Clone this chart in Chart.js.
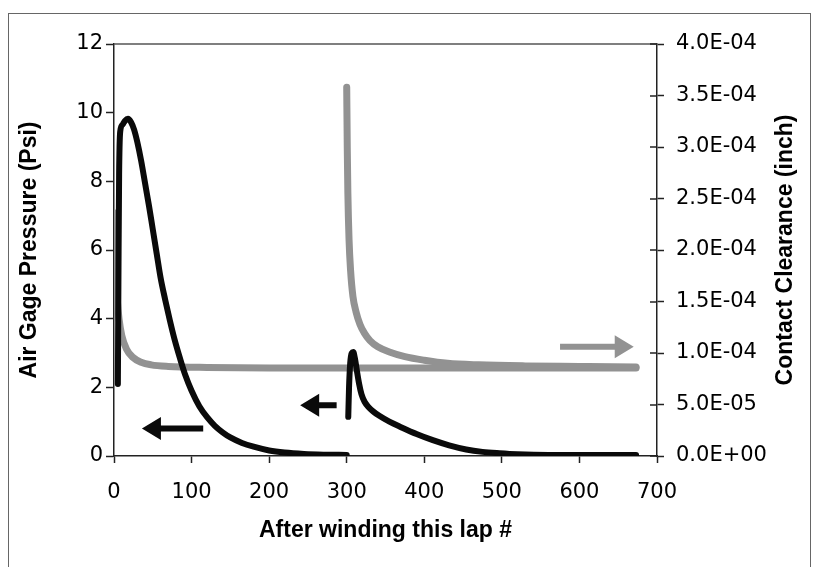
<!DOCTYPE html>
<html>
<head>
<meta charset="utf-8">
<script src="https://cdn.jsdelivr.net/npm/chart.js@4.4.1/dist/chart.umd.min.js"></script>
<style>
html,body{margin:0;padding:0;background:#fff;}
#wrap{position:relative;width:813px;height:567px;}
canvas{display:block;}
</style>
</head>
<body>
<div id="wrap"><canvas id="c" width="813" height="567"></canvas></div>
<script>
// ---- tick labels ----
const lapTicks = [0, 100, 200, 300, 400, 500, 600, 700];
const pressureTicks = [0, 2, 4, 6, 8, 10, 12];
const clearanceTicks = [0, 5e-5, 1e-4, 1.5e-4, 2e-4, 2.5e-4, 3e-4, 3.5e-4, 4e-4];
const clearanceTickLabels = ['0.0E+00','5.0E-05','1.0E-04','1.5E-04','2.0E-04','2.5E-04','3.0E-04','3.5E-04','4.0E-04'];

// ---- Air gage pressure (Psi), first lap group ----
const pressureLapsA = [5, 5.8, 6.6, 8, 11, 14, 18, 22, 26, 30, 35, 40, 45, 50, 55, 60, 66, 72, 78, 85, 92, 100, 110, 120, 130, 140, 150, 165, 180, 200, 220, 245, 270, 300];
const pressureA     = [2.1, 5.5, 8.2, 9.45, 9.65, 9.76, 9.82, 9.72, 9.5, 9.15, 8.6, 7.95, 7.3, 6.6, 5.9, 5.2, 4.55, 3.95, 3.4, 2.85, 2.35, 1.9, 1.45, 1.13, 0.88, 0.69, 0.54, 0.38, 0.27, 0.16, 0.1, 0.06, 0.04, 0.03];

// ---- Air gage pressure (Psi), second lap group ----
const pressureLapsB = [302, 303, 304.5, 306.5, 308.5, 310.5, 313, 316, 319, 323, 328, 334, 342, 355, 370, 390, 411, 432, 454, 475, 497, 520, 560, 673];
const pressureB     = [1.14, 2.0, 2.7, 3.0, 3.03, 2.85, 2.5, 2.1, 1.8, 1.58, 1.43, 1.3, 1.17, 1.0, 0.84, 0.64, 0.46, 0.31, 0.19, 0.12, 0.08, 0.05, 0.03, 0.03];

// ---- Contact clearance (inch), first lap group ----
const clearanceLapsA = [1.2, 1.8, 2.7, 4.2, 6.5, 10, 16, 24, 35, 48, 70, 120, 200, 300, 400, 500, 600, 673];
const clearanceA     = [2.36e-4, 2.05e-4, 1.75e-4, 1.52e-4, 1.33e-4, 1.17e-4, 1.04e-4, 9.6e-5, 9.1e-5, 8.85e-5, 8.7e-5, 8.6e-5, 8.55e-5, 8.55e-5, 8.55e-5, 8.55e-5, 8.55e-5, 8.55e-5];

// ---- Contact clearance (inch), second lap group ----
const clearanceLapsB = [300, 300.7, 301.5, 303, 305, 308, 312, 317, 323, 330, 340, 355, 375, 400, 430, 470, 530, 600, 673];
const clearanceB     = [3.58e-4, 3.0e-4, 2.55e-4, 2.1e-4, 1.8e-4, 1.55e-4, 1.4e-4, 1.28e-4, 1.19e-4, 1.12e-4, 1.06e-4, 1.01e-4, 9.65e-5, 9.3e-5, 9.0e-5, 8.85e-5, 8.75e-5, 8.7e-5, 8.65e-5];

// ---- direction arrows (annotation: which axis each curve belongs to) ----
const arrowTipLap  = [36, 240, 670];
const arrowTailLap = [115, 287, 575];
const arrowLevel   = [0.8, 1.48, 1.06e-4];
const arrowAxis    = ['y', 'y', 'y2'];

const BLACK = '#0a0a0a';
const GRAY = '#929292';

function pts(xs, ys){ return xs.map((x,i)=>({x:x, y:ys[i]})); }

const tickFont = {family: "'DejaVu Sans', 'Liberation Sans', Arial, sans-serif", size: 21};
const titleFont = {family: "'Liberation Sans', Arial, Helvetica, sans-serif", size: 23, weight: 'bold'};

const decorPlugin = {
  id: 'decor',
  beforeDraw(chart){
    const ctx = chart.ctx;
    ctx.save();
    ctx.fillStyle = '#fff';
    ctx.fillRect(0,0,chart.width,chart.height);
    ctx.strokeStyle = '#666';
    ctx.lineWidth = 1;
    ctx.strokeRect(8.5, 13.5, 802, 620);
    ctx.restore();
  },
  afterDraw(chart){
    const ctx = chart.ctx;
    const a = chart.chartArea;
    ctx.save();
    // top border of plot area
    ctx.strokeStyle = '#555';
    ctx.lineWidth = 1.5;
    ctx.beginPath();
    ctx.moveTo(a.left, a.top);
    ctx.lineTo(a.right, a.top);
    ctx.stroke();
    // inner half of right axis ticks (ticks cross the axis)
    const y2 = chart.scales.y2;
    ctx.strokeStyle = '#222';
    ctx.lineWidth = 1.5;
    y2.ticks.forEach(t=>{
      const py = Math.round(y2.getPixelForValue(t.value));
      ctx.beginPath();
      ctx.moveTo(a.right - 7, py);
      ctx.lineTo(a.right, py);
      ctx.stroke();
    });
    // arrows
    const xs = chart.scales.x;
    for (let i=0;i<arrowTipLap.length;i++){
      const sc = chart.scales[arrowAxis[i]];
      const tip = xs.getPixelForValue(arrowTipLap[i]);
      const tail = xs.getPixelForValue(arrowTailLap[i]);
      const py = sc.getPixelForValue(arrowLevel[i]);
      const dir = tail > tip ? 1 : -1;
      const headLen = 19, headHalf = 11.5, shaft = 6;
      ctx.fillStyle = arrowAxis[i]==='y2' ? GRAY : BLACK;
      ctx.beginPath();
      ctx.moveTo(tip, py);
      ctx.lineTo(tip + dir*headLen, py - headHalf);
      ctx.lineTo(tip + dir*headLen, py - shaft/2);
      ctx.lineTo(tail, py - shaft/2);
      ctx.lineTo(tail, py + shaft/2);
      ctx.lineTo(tip + dir*headLen, py + shaft/2);
      ctx.lineTo(tip + dir*headLen, py + headHalf);
      ctx.closePath();
      ctx.fill();
    }
    // right axis title, reading bottom to top
    const t = chart.options.scales.y2.title;
    ctx.fillStyle = '#000';
    ctx.font = 'bold 23px "Liberation Sans", Arial, sans-serif';
    ctx.textAlign = 'center';
    ctx.textBaseline = 'middle';
    ctx.translate(786, (a.top + a.bottom)/2);
    ctx.rotate(-Math.PI/2);
    ctx.fillText(t.text, 0, 0);
    ctx.restore();
  }
};

const lineCommon = {
  pointRadius: 0,
  pointHoverRadius: 0,
  fill: false,
  cubicInterpolationMode: 'monotone',
  borderCapStyle: 'round',
  borderJoinStyle: 'round'
};

new Chart(document.getElementById('c'), {
  type: 'line',
  data: {
    datasets: [
      Object.assign({label: 'Air Gage Pressure A', data: pts(pressureLapsA, pressureA), borderColor: BLACK, borderWidth: 6, yAxisID: 'y'}, lineCommon),
      Object.assign({label: 'Air Gage Pressure B', data: pts(pressureLapsB, pressureB), borderColor: BLACK, borderWidth: 6, yAxisID: 'y'}, lineCommon),
      Object.assign({label: 'Contact Clearance A', data: pts(clearanceLapsA, clearanceA), borderColor: GRAY, borderWidth: 7, yAxisID: 'y2'}, lineCommon),
      Object.assign({label: 'Contact Clearance B', data: pts(clearanceLapsB, clearanceB), borderColor: GRAY, borderWidth: 7, yAxisID: 'y2'}, lineCommon)
    ]
  },
  options: {
    responsive: false,
    animation: false,
    devicePixelRatio: 1,
    layout: {padding: {top: 44, left: 0, right: 0, bottom: 0}},
    plugins: {legend: {display: false}, tooltip: {enabled: false}},
    scales: {
      x: {
        type: 'linear', position: 'bottom', min: 0, max: 700,
        afterBuildTicks: s => { s.ticks = lapTicks.map(v=>({value:v})); },
        afterFit: s => { s.height = 111; },
        grid: {display: true, drawOnChartArea: false, drawTicks: true, tickLength: 7, tickColor: '#222', tickWidth: 1.5},
        border: {display: true, color: '#222', width: 1.5},
        ticks: {color: '#000', font: tickFont, padding: 17, maxRotation: 0},
        title: {display: true, text: 'After winding this lap #', color: '#000', font: titleFont, padding: {top: 0, bottom: 23}}
      },
      y: {
        type: 'linear', position: 'left', min: 0, max: 12,
        afterBuildTicks: s => { s.ticks = pressureTicks.map(v=>({value:v})); },
        afterFit: s => { s.width = 114; },
        grid: {display: true, drawOnChartArea: false, drawTicks: true, tickLength: 8, tickColor: '#222', tickWidth: 1.5},
        border: {display: true, color: '#222', width: 1.5},
        ticks: {color: '#000', font: tickFont, padding: 3},
        title: {display: true, text: 'Air Gage Pressure (Psi)', color: '#000', font: titleFont, padding: {top: 16, bottom: 0}}
      },
      y2: {
        type: 'linear', position: 'right', min: 0, max: 4e-4,
        afterBuildTicks: s => { s.ticks = clearanceTicks.map(v=>({value:v})); },
        afterFit: s => { s.width = 156; },
        grid: {display: true, drawOnChartArea: false, drawTicks: true, tickLength: 7, tickColor: '#222', tickWidth: 1.5},
        border: {display: true, color: '#222', width: 1.5},
        ticks: {color: '#000', font: tickFont, padding: 12, callback: (v, i) => clearanceTickLabels[i]},
        title: {display: false, text: 'Contact Clearance (inch)'}
      }
    }
  },
  plugins: [decorPlugin]
});
</script>
</body>
</html>
